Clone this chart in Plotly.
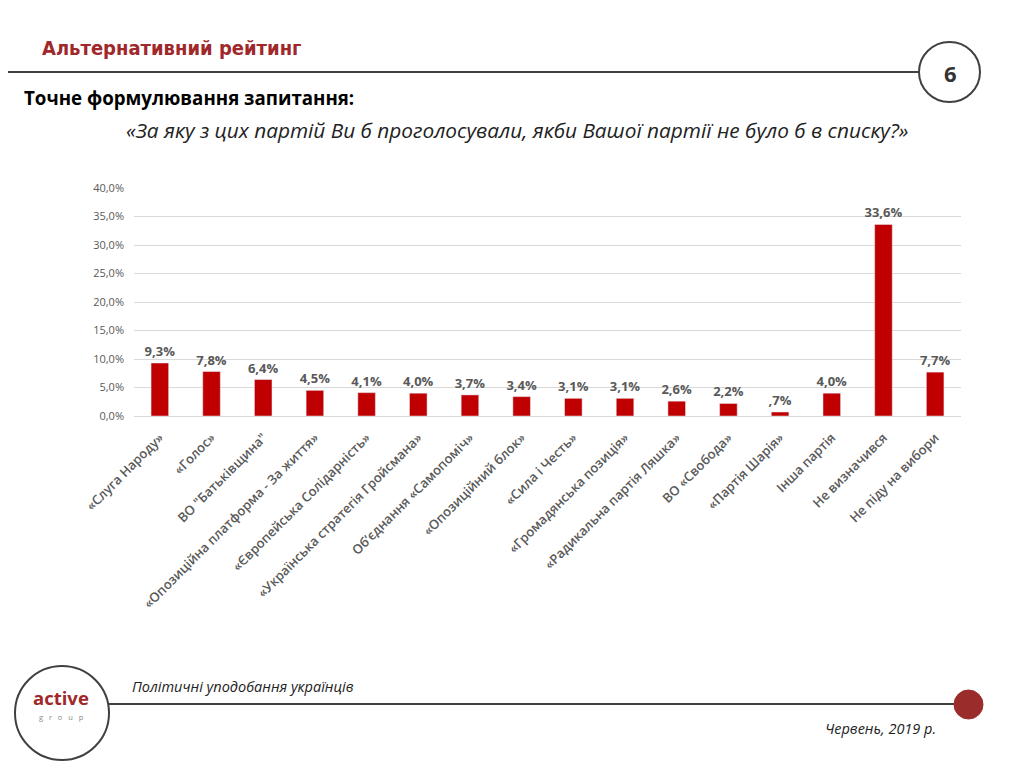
import plotly.graph_objects as go

categories = [
    "«Слуга Народу»", "«Голос»", "ВО \"Батьківщина\"", "«Опозиційна платформа - За життя»",
    "«Європейська Солідарність»", "«Українська стратегія Гройсмана»", "Об’єднання «Самопоміч»",
    "«Опозиційний блок»", "«Сила і Честь»", "«Громадянська позиція»", "«Радикальна партія Ляшка»",
    "ВО «Свобода»", "«Партія Шарія»", "Інша партія", "Не визначився", "Не піду на вибори",
]
values = [9.3, 7.8, 6.4, 4.5, 4.1, 4.0, 3.7, 3.4, 3.1, 3.1, 2.6, 2.2, 0.7, 4.0, 33.6, 7.7]
y_ticks = [0, 5, 10, 15, 20, 25, 30, 35, 40]


def fmt(v):
    s = f"{v:.1f}".replace(".", ",")
    if s.startswith("0,"):
        s = s[1:]
    return s + "%"


labels = [fmt(v) for v in values]
y_tick_text = [fmt(v) if v else "0,0%" for v in y_ticks]

OFF = 8  # browser body margin
W, H = 1024 - OFF, 764 - OFF
L, R, T, B = 134, 961, 188, 416  # screen pixel coords of plot area


def px(x):
    return (x - L) / (R - L)


def py(y):
    return (B - y) / (B - T)


fig = go.Figure()
fig.add_trace(go.Bar(
    x=categories, y=values, text=labels, textposition="outside",
    textfont=dict(family="Open Sans", size=13, color="#595959", weight="bold"),
    marker=dict(color="#C00000"), width=0.34, cliponaxis=False, constraintext="none",
    hoverinfo="skip",
))

shapes = []
# page side borders
for xb in (2.5, 1018.5):
    shapes.append(dict(type="line", xref="paper", yref="paper", x0=px(xb), x1=px(xb), y0=py(0), y1=py(764),
                       line=dict(color="#a8a8a8", width=1.5)))
# header line and circle
shapes.append(dict(type="line", xref="paper", yref="paper", x0=px(0), x1=px(920), y0=py(72), y1=py(72),
                   line=dict(color="#404040", width=2)))
shapes.append(dict(type="circle", xref="paper", yref="paper", x0=px(919), x1=px(980), y0=py(42), y1=py(102),
                   line=dict(color="#404040", width=2), fillcolor="white"))
# footer line, logo circle, red dot
shapes.append(dict(type="line", xref="paper", yref="paper", x0=px(108), x1=px(962), y0=py(704), y1=py(704),
                   line=dict(color="#404040", width=2)))
shapes.append(dict(type="circle", xref="paper", yref="paper", x0=px(15), x1=px(109), y0=py(666), y1=py(760),
                   line=dict(color="#404040", width=2), fillcolor="white"))
shapes.append(dict(type="circle", xref="paper", yref="paper", x0=px(954), x1=px(983), y0=py(690), y1=py(719),
                   line=dict(color="#9B2C2C", width=1), fillcolor="#9B2C2C"))

ann = []


def text(x, y, t, size, color, family="Open Sans", xanchor="left", weight="normal", style="normal"):
    ann.append(dict(xref="paper", yref="paper", x=px(x), y=py(y), text=t, showarrow=False,
                    xanchor=xanchor, yanchor="middle",
                    font=dict(family=family, size=size, color=color, weight=weight, style=style)))


nb = "&nbsp;" * 3
text(40, 48, "Альтернативний рейтинг", 20, "#A0282B", family="DejaVu Sans Condensed", weight="bold")
text(950, 73, "6", 22, "#333333", xanchor="center", weight="bold")
text(22, 97, "Точне формулювання запитання:", 18.7, "#000000", weight="bold")
text(517, 130, "«За яку з цих партій Ви б проголосували, якби Вашої партії не було б в списку?»", 20.8,
     "#222222", xanchor="center", style="italic")
text(130, 686, "Політичні уподобання українців", 14.5, "#222222", style="italic")
text(938, 728, "Червень, 2019 р.", 14.5, "#222222", xanchor="right", style="italic")
text(61, 697, "active", 18.5, "#A0282B", xanchor="center", weight="bold")
text(61, 717, nb.join("group"), 7.5, "#8a8a8a", xanchor="center")

fig.update_layout(
    width=W, height=H,
    margin=dict(l=L - OFF, r=W - (R - OFF), t=T - OFF, b=H - (B - OFF), autoexpand=False),
    paper_bgcolor="white", plot_bgcolor="white",
    showlegend=False,
    shapes=shapes, annotations=ann,
    xaxis=dict(tickangle=-45, tickfont=dict(family="Open Sans", size=13, color="#595959", weight=600),
               ticklabelstandoff=8,
               showline=True, linecolor="#d9d9d9", ticks="", showgrid=False, fixedrange=True),
    yaxis=dict(range=[0, 40], tickvals=y_ticks, ticktext=y_tick_text, ticklabelstandoff=9,
               tickfont=dict(family="Open Sans", size=11, color="#595959"),
               showgrid=True, gridcolor="#d9d9d9", gridwidth=1, zeroline=False,
               showline=False, ticks="", fixedrange=True),
)

fig.write_html("out.html")
